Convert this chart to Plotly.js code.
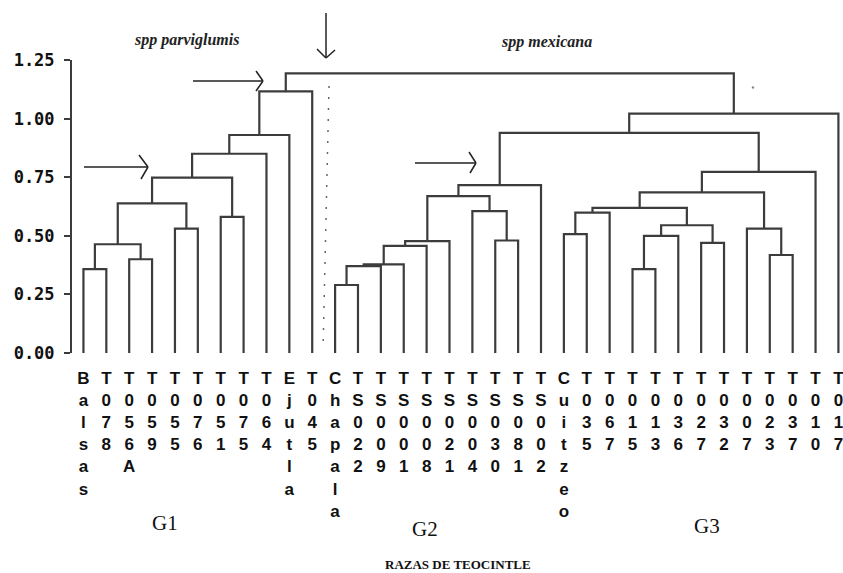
<!DOCTYPE html>
<html>
<head>
<meta charset="utf-8">
<script src="https://cdn.plot.ly/plotly-3.0.1.min.js"></script>
<style>html,body{margin:0;padding:0;background:#fff;}#chart{width:843px;height:573px;}</style>
</head>
<body>
<div id="chart"></div>
<script>
// Leaf labels (left to right)
const leafLabels = [
  "Balsas","T078","T056A","T059","T055","T076","T051","T075","T064","Ejutla","T045",
  "Chapala","TS022","TS009","TS001","TS008","TS021","TS004","TS030","TS081","TS002",
  "Cuitzeo","T035","T067","T015","T013","T036","T027","T032","T007","T023","T037","T010","T017"
];
// Linkage: each merge joins clusters mergeLeft[i] and mergeRight[i] at mergeHeight[i];
// merge i creates cluster id leafLabels.length + i
const mergeLeft  = [0, 2,34, 4,36, 6,38,40,41,42, 11,44,45,46,47,18,17,48,51, 21,53,24,55,27,56,54,30,29,59,62, 52,64,43];
const mergeRight = [1, 3,35, 5,37, 7,39, 8, 9,10, 12,13,14,15,16,19,49,50,20, 22,23,25,26,28,57,58,31,60,61,32, 63,33,65];
const mergeHeight= [0.358,0.400,0.464,0.531,0.638,0.581,0.748,0.850,0.930,1.116,
                    0.290,0.371,0.378,0.457,0.477,0.480,0.605,0.669,0.716,
                    0.507,0.599,0.358,0.500,0.470,0.545,0.619,0.418,0.531,0.685,0.773,
                    0.939,1.021,1.193];
const yTickVals = [0, 0.25, 0.5, 0.75, 1.0, 1.25];
const yTickText = ["0.00","0.25","0.50","0.75","1.00","1.25"];

// Build dendrogram geometry from the linkage
const n = leafLabels.length;
const pos = [], hgt = [];
for (let i = 0; i < n; i++) { pos.push(i); hgt.push(0); }
const xs = [], ys = [];
for (let i = 0; i < mergeLeft.length; i++) {
  const a = mergeLeft[i], b = mergeRight[i], h = mergeHeight[i];
  xs.push(pos[a], pos[a], pos[b], pos[b], null);
  ys.push(hgt[a], h, h, hgt[b], null);
  pos.push((pos[a] + pos[b]) / 2);
  hgt.push(h);
}

const lineColor = '#3c3c3c';
const trace = {
  x: xs, y: ys, type: 'scatter', mode: 'lines',
  line: {color: lineColor, width: 2.2}, hoverinfo: 'skip', showlegend: false
};

// pixel helpers for annotation placement
const L = 72, R = 843, T = 60, B = 353;
const px = x => (x - L) / (R - L);
const py = y => (B - y) / (B - T);
function seg(x0, y0, x1, y1, extra) {
  return Object.assign({type: 'line', xref: 'paper', yref: 'paper',
    x0: px(x0), y0: py(y0), x1: px(x1), y1: py(y1),
    line: {color: '#222', width: 1.5}}, extra || {});
}
const shapes = [
  // arrow 1
  seg(84,167,148,167), seg(139,155,148,167), seg(148,167,141,179),
  // arrow 2
  seg(193,81,263,81), seg(256,71,263,81), seg(263,81,256,91),
  // arrow 3
  seg(415,163,476,163), seg(469,152,476,163), seg(476,163,470,173),
  // down arrow
  seg(326,13,326,58), seg(317,49,326,58), seg(326,58,335,50),
  // dotted separator
  seg(329,86,323,350, {line: {color: '#666', width: 1.5, dash: '2px,9px'}}),
  // stray speck
  seg(752,87,754,88, {line: {color: '#888', width: 2}})
];

function ann(text, x, y, font) {
  return {text: text, xref: 'paper', yref: 'paper', x: px(x), y: py(y),
    xanchor: 'center', yanchor: 'middle', showarrow: false, font: font};
}
const serif = 'Liberation Serif, Times New Roman, serif';
const annotations = [
  ann('spp parviglumis', 186, 40, {family: serif, size: 16, style: 'italic', weight: 'bold', color: '#222'}),
  ann('spp mexicana', 546, 42, {family: serif, size: 16, style: 'italic', weight: 'bold', color: '#222'}),
  ann('G1', 165, 523, {family: serif, size: 21, color: '#111'}),
  ann('G2', 425, 529, {family: serif, size: 21, color: '#111'}),
  ann('G3', 707, 526, {family: serif, size: 21, color: '#111'}),
  ann('RAZAS DE TEOCINTLE', 458, 564, {family: serif, size: 13, weight: 'bold', color: '#111'})
];

const layout = {
  width: 843, height: 573,
  margin: {l: L, r: 843 - R, t: T, b: 573 - B, pad: 0},
  paper_bgcolor: '#fff', plot_bgcolor: '#fff',
  showlegend: false,
  xaxis: {
    range: [-0.5, 33.2], showgrid: false, zeroline: false, showline: false,
    ticks: '', tickmode: 'array',
    tickvals: leafLabels.map((_, i) => i),
    ticktext: leafLabels.map(s => s.split('').join('<br>')),
    tickangle: 0, ticklabelstandoff: 13, ticklabeloverflow: 'allow',
    tickfont: {family: 'Liberation Sans, Arial, sans-serif', size: 17, weight: 'bold', color: '#111'}
  },
  yaxis: {
    range: [0, 1.25], showgrid: false, zeroline: false,
    showline: true, linecolor: lineColor, linewidth: 2,
    ticks: 'outside', ticklen: 6, tickwidth: 2, tickcolor: lineColor,
    tickmode: 'array', tickvals: yTickVals, ticktext: yTickText,
    ticklabelstandoff: 6,
    tickfont: {family: 'DejaVu Sans Mono, monospace', size: 17, weight: 'bold', color: '#111'}
  },
  shapes: shapes,
  annotations: annotations
};

Plotly.newPlot('chart', [trace], layout, {displayModeBar: false, staticPlot: true});
</script>
</body>
</html>
